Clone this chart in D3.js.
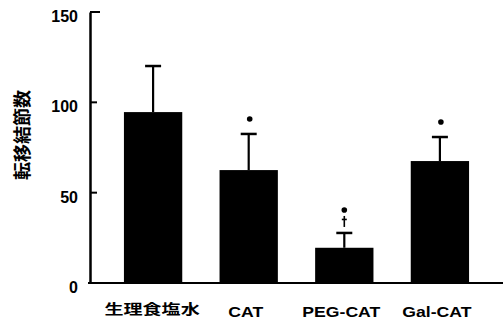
<!DOCTYPE html>
<html><head><meta charset="utf-8">
<script src="https://cdn.jsdelivr.net/npm/d3@7"></script>
<style>body{margin:0;background:#fff}svg{display:block}</style>
</head><body>
<svg id="c" width="503" height="326"></svg>
<script>
const categories = ["生理食塩水", "CAT", "PEG-CAT", "Gal-CAT"];
const values = [94.6, 62.5, 19.5, 67.5];
const errors = [25.5, 20, 8.2, 13.3];
const marks = ["", "*", "*†", "*"];
const yTicks = [0, 50, 100, 150];
const yLabel = "転移結節数";

const svg = d3.select("#c");
const x = d3.scaleBand().domain(categories).range([90, 503]).paddingInner(0.39).paddingOuter(0.355);
const y = d3.scaleLinear().domain([0, 150]).range([283, 12]);

// bars
svg.append("g").selectAll("rect").data(categories).join("rect")
  .attr("x", d => x(d)).attr("width", x.bandwidth())
  .attr("y", (d, i) => y(values[i])).attr("height", (d, i) => y(0) - y(values[i]))
  .attr("fill", "#000");

// error bars (upper only)
const eb = svg.append("g").attr("stroke", "#000").attr("stroke-width", 2.2);
categories.forEach((d, i) => {
  const cx = x(d) + x.bandwidth() / 2;
  eb.append("line").attr("x1", cx).attr("x2", cx).attr("y1", y(values[i])).attr("y2", y(values[i] + errors[i]));
  eb.append("line").attr("x1", cx - 8).attr("x2", cx + 8).attr("y1", y(values[i] + errors[i])).attr("y2", y(values[i] + errors[i])).attr("stroke-width", 2.5);
});

// significance marks
categories.forEach((d, i) => {
  const cx = x(d) + x.bandwidth() / 2;
  const top = y(values[i] + errors[i]);
  const m = marks[i];
  if (!m) return;
  if (m.includes("†")) {
    const g = svg.append("g").attr("stroke", "#000").attr("stroke-width", 1.6);
    g.append("line").attr("x1", cx).attr("x2", cx).attr("y1", top - 17).attr("y2", top - 6);
    g.append("line").attr("x1", cx - 2.5).attr("x2", cx + 2.5).attr("y1", top - 13.5).attr("y2", top - 13.5);
    svg.append("circle").attr("cx", cx).attr("cy", top - 23).attr("r", 2.8).attr("fill", "#000");
  } else {
    svg.append("circle").attr("cx", cx + 1).attr("cy", top - 15).attr("r", 2.8).attr("fill", "#000");
  }
});

// y axis
const ax = svg.append("g").attr("transform", "translate(90,0)")
  .call(d3.axisLeft(y).tickValues(yTicks).tickSize(0).tickSizeOuter(0).tickPadding(12).tickFormat(d3.format("d")));
ax.select(".domain").attr("stroke", "#000").attr("stroke-width", 2.5);
ax.selectAll(".tick text").attr("font-family", "Liberation Sans, Arial").attr("font-weight", "bold")
  .attr("font-size", 16).attr("dy", "0.6em").attr("fill", "#000");

// inward tick marks
svg.append("g").selectAll("line").data(yTicks.filter(t => t > 0)).join("line")
  .attr("x1", 90).attr("x2", t => t === 150 ? 100 : 97)
  .attr("y1", t => y(t)).attr("y2", t => y(t))
  .attr("stroke", "#000").attr("stroke-width", 2);

// baseline
svg.append("line").attr("x1", 88).attr("x2", 503).attr("y1", y(0)).attr("y2", y(0)).attr("stroke", "#000").attr("stroke-width", 2.2);

// x labels
categories.forEach((d, i) => {
  const isCJK = /[\u4e00-\u9fff]/.test(d);
  const cx = x(d) + x.bandwidth() / 2 - (isCJK ? 1 : 3);
  svg.append("g").attr("transform", `translate(${cx},${isCJK ? 314 : 317})`)
    .append("text").attr("transform", isCJK ? "scale(1.27,0.9)" : "scale(1.26,1)")
    .attr("text-anchor", "middle")
    .attr("font-family", isCJK ? "Noto Sans CJK JP" : "Liberation Sans, Arial")
    .attr("font-weight", "bold")
    .attr("font-size", isCJK ? 15 : 14)
    .text(d);
});

// y label
svg.append("text").attr("transform", "translate(29,135) rotate(-90)")
  .attr("text-anchor", "middle").attr("font-family", "Noto Sans CJK JP").attr("font-weight", "bold")
  .attr("font-size", 18).text(yLabel);
</script>
</body></html>
